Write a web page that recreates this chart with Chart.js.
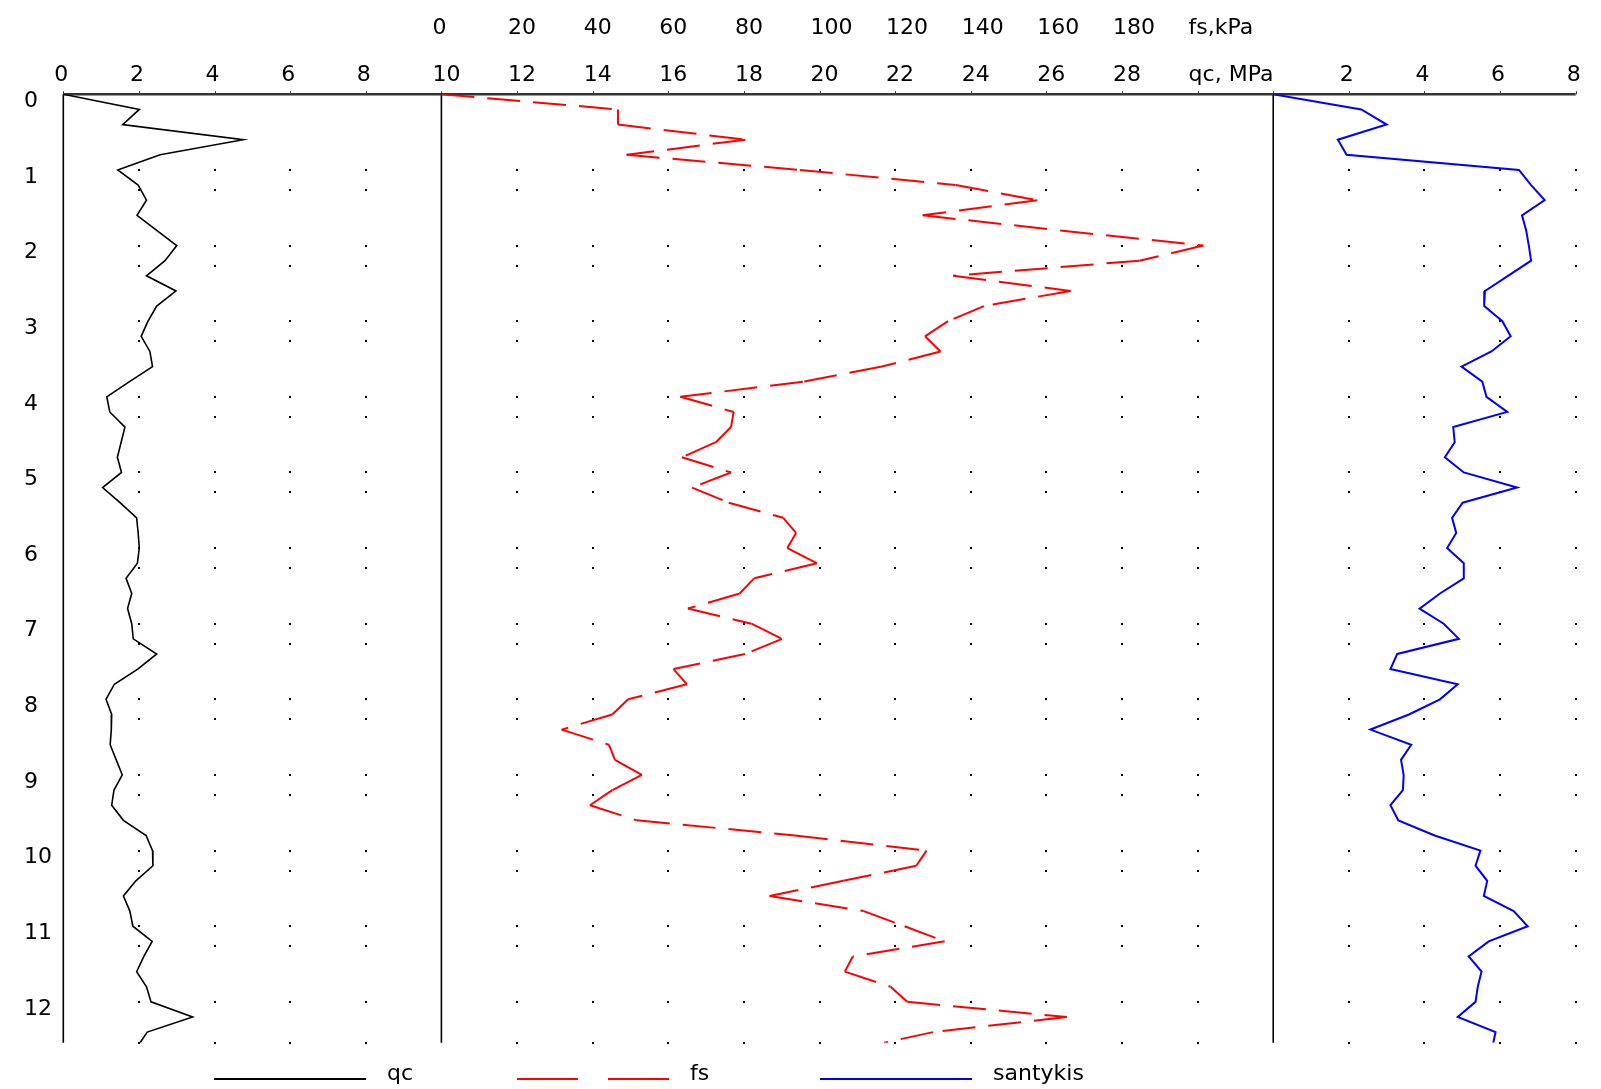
<!DOCTYPE html>
<html>
<head>
<meta charset="utf-8">
<script src="https://cdn.jsdelivr.net/npm/chart.js@4.4.0/dist/chart.umd.min.js"></script>
<style>
  html, body { margin: 0; padding: 0; background: #fff; }
  canvas { display: block; }
</style>
</head>
<body>
<canvas id="cpt" width="1601" height="1089"></canvas>
<script>
// Depth of each reading, m
const depth = [0, 0.2, 0.4, 0.6, 0.8, 1.0, 1.2, 1.4, 1.6, 1.8, 2.0, 2.2, 2.4, 2.6, 2.8, 3.0,
    3.2, 3.4, 3.6, 3.8, 4.0, 4.2, 4.4, 4.6, 4.8, 5.0, 5.2, 5.4, 5.6, 5.8, 6.0, 6.2,
    6.4, 6.6, 6.8, 7.0, 7.2, 7.4, 7.6, 7.8, 8.0, 8.2, 8.4, 8.6, 8.8, 9.0, 9.2, 9.4,
    9.6, 9.8, 10.0, 10.2, 10.4, 10.6, 10.8, 11.0, 11.2, 11.4, 11.6, 11.8, 12.0, 12.2,
    12.4, 12.54];

// Cone resistance qc, MPa
const qc = [0, 2.01, 1.57, 4.76, 2.56, 1.44, 1.98, 2.20, 1.95, 2.47, 3.00, 2.69, 2.20, 2.98, 2.47, 2.24,
    2.06, 2.29, 2.36, 1.75, 1.15, 1.23, 1.63, 1.53, 1.43, 1.54, 1.04, 1.50, 1.94, 1.98, 2.01, 1.96,
    1.66, 1.81, 1.70, 1.81, 1.85, 2.47, 1.97, 1.35, 1.13, 1.28, 1.27, 1.24, 1.40, 1.56, 1.34, 1.28,
    1.59, 2.19, 2.36, 2.37, 1.92, 1.59, 1.76, 1.84, 2.35, 2.13, 1.94, 2.20, 2.32, 3.42,
    2.22, 2.03];

// Sleeve friction fs, kPa
const fs = [0, 46.7, 46.7, 80.4, 49.0, 94.8, 136.0, 157.6, 127.3, 163.7, 201.5, 184.6, 135.4, 166.4, 143.5, 134.0,
    127.9, 132.0, 116.5, 95.6, 63.2, 77.3, 76.6, 72.6, 63.6, 76.6, 66.3, 76.0, 90.4, 93.8, 91.5, 99.3,
    82.7, 78.9, 65.2, 82.0, 90.1, 80.3, 61.4, 64.9, 49.4, 45.2, 31.8, 44.3, 45.9, 53.0, 45.2, 39.3,
    51.7, 93.5, 128.3, 125.6, 106.3, 86.8, 111.7, 122.5, 133.1, 108.8, 106.7, 118.8, 123.2, 165.4,
    130.0, 117.1];

// Friction ratio (santykis), %
const santykis = [0, 2.33, 3.00, 1.71, 1.94, 6.50, 6.82, 7.18, 6.58, 6.69, 6.76, 6.82, 6.21, 5.60, 5.58, 6.06,
    6.28, 5.77, 4.98, 5.53, 5.64, 6.19, 4.76, 4.80, 4.54, 5.04, 6.45, 5.01, 4.73, 4.84, 4.60, 5.04,
    5.04, 4.41, 3.87, 4.51, 4.91, 3.28, 3.10, 4.88, 4.41, 3.59, 2.57, 3.65, 3.38, 3.45, 3.43, 3.10,
    3.31, 4.27, 5.48, 5.35, 5.66, 5.57, 6.36, 6.73, 5.70, 5.17, 5.51, 5.41, 5.35, 4.88,
    5.88, 5.82];

// Top tick labels, one every 2 units of the shared horizontal scale (0..40)
const qcTickLabels = ['0', '2', '4', '6', '8', '10', '12', '14', '16', '18', '20', '22', '24', '26', '28',
    'qc, MPa', '', '2', '4', '6', '8'];
const fsTickLabels = ['', '', '', '', '', '0', '20', '40', '60', '80', '100', '120', '140', '160', '180',
    'fs,kPa', '', '', '', '', ''];
const depthTickLabels = ['0', '1', '2', '3', '4', '5', '6', '7', '8', '9', '10', '11', '12'];

// The three panels share one x scale: qc 0..10, fs from 10 (10 kPa per unit), ratio from 32
const FS_START = 10;
const FS_PER_UNIT = 10;
const RATIO_START = 32;
const X_MAX = 40;
const DEPTH_MAX = 12.54;

const FONT = { family: '"DejaVu Sans", sans-serif', size: 22, weight: 'normal' };

function topAxis(labels, weight, height, padding) {
    return {
        type: 'linear',
        position: 'top',
        min: 0,
        max: X_MAX,
        weight: weight,
        grid: { display: false, drawTicks: false },
        border: { display: false },
        afterBuildTicks: scale => {
            scale.ticks = labels.map((t, i) => ({ value: i * 2 }));
        },
        afterFit: scale => { scale.height = height; },
        ticks: {
            autoSkip: false,
            maxRotation: 0,
            align: 'start',
            labelOffset: -9,
            padding: padding,
            color: '#000',
            font: FONT,
            callback: (value, index) => labels[index]
        }
    };
}

// Dotted grid, panel borders and the top axis line
const gridRows = [1, 1.265, 2, 2.265, 3, 3.265, 4, 4.265, 5, 5.265, 6, 6.265, 7, 7.265,
    8, 8.265, 9, 9.265, 10, 10.265, 11, 11.265, 12, DEPTH_MAX];
const gridCols = [2, 4, 6, 8, 12, 14, 16, 18, 20, 22, 24, 26, 28, 30, 34, 36, 38, 40];
const panelEdges = [0, FS_START, RATIO_START];

const framePlugin = {
    id: 'frame',
    beforeDatasetsDraw(chart) {
        const { ctx, chartArea: a } = chart;
        const x = chart.scales.x;
        const y = chart.scales.y;
        ctx.save();
        ctx.fillStyle = '#000';
        gridRows.forEach(d => {
            const py = Math.round(y.getPixelForValue(d));
            gridCols.forEach(c => {
                ctx.fillRect(Math.round(x.getPixelForValue(c)) - 1, py - 1, 2, 2);
            });
        });
        ctx.strokeStyle = '#000';
        ctx.lineWidth = 1.6;
        panelEdges.forEach(v => {
            const px = x.getPixelForValue(v);
            ctx.beginPath();
            ctx.moveTo(px, a.top);
            ctx.lineTo(px, a.bottom);
            ctx.stroke();
        });
        ctx.strokeStyle = '#333';
        ctx.lineWidth = 2.4;
        ctx.beginPath();
        ctx.moveTo(a.left, a.top);
        ctx.lineTo(a.right, a.top);
        ctx.stroke();
        ctx.lineWidth = 1;
        for (let v = 0; v <= X_MAX; v += 2) {
            const px = Math.round(x.getPixelForValue(v)) + 0.5;
            ctx.beginPath();
            ctx.moveTo(px, a.top);
            ctx.lineTo(px, a.top - 3);
            ctx.stroke();
        }
        ctx.restore();
    }
};

// Legend row under the plot
const legendPlugin = {
    id: 'legendRow',
    afterDraw(chart) {
        const { ctx } = chart;
        ctx.save();
        ctx.font = '22px "DejaVu Sans", sans-serif';
        ctx.textBaseline = 'alphabetic';
        chart.data.datasets.forEach((ds, i) => {
            const x0 = 214 + i * 303;
            ctx.strokeStyle = ds.borderColor;
            ctx.lineWidth = 2;
            ctx.setLineDash(ds.legendDash || []);
            ctx.beginPath();
            ctx.moveTo(x0, 1079);
            ctx.lineTo(x0 + 152, 1079);
            ctx.stroke();
            ctx.setLineDash([]);
            ctx.fillStyle = '#000';
            ctx.fillText(ds.label, x0 + 173, 1080);
        });
        ctx.restore();
    }
};

const common = { showLine: true, pointRadius: 0, pointHoverRadius: 0, fill: false, tension: 0 };

new Chart(document.getElementById('cpt'), {
    type: 'scatter',
    data: {
        datasets: [{
            ...common,
            label: 'qc',
            data: depth.map((d, i) => ({ x: qc[i], y: d })),
            borderColor: '#000000',
            borderWidth: 1.6
        }, {
            ...common,
            label: 'fs',
            data: depth.map((d, i) => ({ x: FS_START + fs[i] / FS_PER_UNIT, y: d })),
            borderColor: '#ff0000',
            borderWidth: 2,
            borderDash: [33, 13],
            legendDash: [61, 30],
            // restart the dash pattern at every reading, like the original plotter
            segment: { borderDashOffset: ctx => (ctx.p0DataIndex % 2) * 0.01 }
        }, {
            ...common,
            label: 'santykis',
            data: depth.map((d, i) => ({ x: RATIO_START + santykis[i], y: d })),
            borderColor: '#0000ff',
            borderWidth: 2
        }]
    },
    options: {
        responsive: false,
        animation: false,
        layout: { padding: { left: 24, right: 25.3, top: 0, bottom: 46.3 } },
        plugins: {
            legend: { display: false },
            tooltip: { enabled: false }
        },
        scales: {
            x: topAxis(qcTickLabels, 0, 44.3, 6),
            xfs: topAxis(fsTickLabels, 1, 50, 9),
            y: {
                type: 'linear',
                position: 'left',
                reverse: true,
                min: 0,
                max: DEPTH_MAX,
                grid: { display: false, drawTicks: false },
                border: { display: false },
                afterBuildTicks: scale => {
                    scale.ticks = depthTickLabels.map(t => ({ value: Number(t) }));
                },
                afterFit: scale => { scale.width = 39.3; },
                ticks: {
                    autoSkip: false,
                    crossAlign: 'far',
                    labelOffset: 7,
                    color: '#000',
                    font: FONT,
                    callback: (value, index) => depthTickLabels[index]
                }
            }
        }
    },
    plugins: [framePlugin, legendPlugin]
});
</script>
</body>
</html>
